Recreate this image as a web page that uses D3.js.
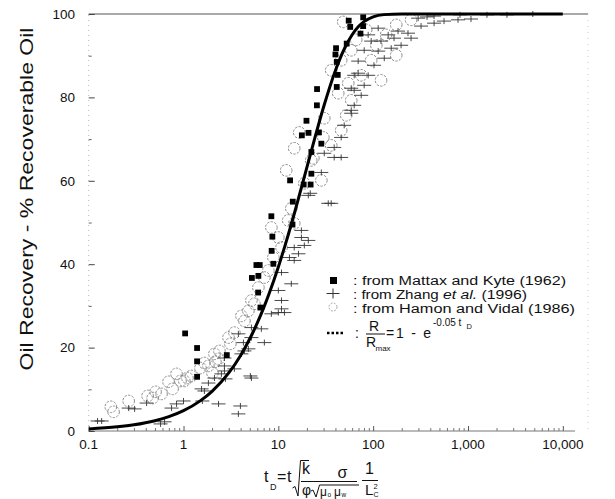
<!DOCTYPE html>
<html><head><meta charset="utf-8">
<script src="https://cdn.jsdelivr.net/npm/d3@7"></script>
<style>body{margin:0;background:#fff}svg{display:block;font-family:Arial,"Liberation Sans",sans-serif}</style>
</head><body>
<svg id="c" width="615" height="499"></svg>
<script>
// ---- data ----
const xTicks = [0.1, 1, 10, 100, 1000, 10000];
const xTickLabels = ["0.1", "1", "10", "100", "1,000", "10,000"];
const yTicks = [0, 20, 40, 60, 80, 100];

const mattaxT = [1.04,1.39,1.39,1.39,2.86,6.47,5.26,6.16,6.12,5.87,6.36,8.86,8.5,8.65,8.44,14.1,14.2,13.3,18.5,21.9,22.3,22.3,28.4,26.8,20.8,17.7,19.8,25.5,25.6,41.3,42.3,41.3,40.0,40.6,52.6,73.5,78.5,78.5,55.2,57.3];
const mattaxR = [23.4,19.9,16.7,13.0,18.2,29.6,36.7,37.2,33.2,39.8,39.8,40.1,43.2,46.6,51.5,49.5,55.0,60.1,59.1,59.1,61.7,66.9,68.9,71.6,71.5,70.9,74.4,78.1,82.0,82.5,85.4,88.5,90.3,91.8,92.9,95.3,97.1,99.2,98.4,96.9];

const zhangT = [0.137,0.264,0.408,0.748,0.844,1.0,0.631,1.83,1.55,2.34,3.79,5.20,4.83,4.08,2.51,2.70,10.0,6.62,7.12,3.79,4.28,2.70,10.8,2.12,2.77,5.07,4.39,3.44,0.124,0.305,0.573,1.66,1.58,3.98,2.70,11.6,13.7,10.8,14.7,16.3,18.8,17.5,13.1,5.20,5.20,10.8,8.44,10.0,33.6,20.7,14.7,17.5,28.4,38.8,30.5,20.7,46.0,36.1,21.7,46.0,63.1,58.7,69.5,49.5,38.8,121,144,183,233,320,439,559,785,1076,197,155,113,131,102,88.6,80.4,74.8,63.1,58.7,251,166,95.3,298,439,113,88.6,80.4,69.5,63.1,58.7,370,824,1585,2576,4831];
const zhangR = [2.4,5.5,6.7,5.5,6.5,7.2,2.2,11.5,10.1,6.5,4.1,12.7,19.7,18.5,13.7,14.4,28.4,24.5,21.2,23.3,21.2,15.6,29.3,12.7,12.5,13.2,19.2,14.9,2.4,5.3,1.7,9.6,7.2,6.0,17.5,28.4,35.3,38.0,40.9,42.5,44.5,46.4,41.6,24.8,22.4,31.3,28.1,33.7,54.6,56.5,44.0,48.1,62.0,65.6,66.6,45.7,65.6,54.6,57.0,70.4,81.7,76.9,85.8,73.3,68.0,93.5,95.0,95.9,95.4,97.1,97.8,98.3,98.6,98.8,92.5,91.8,91.1,89.4,87.7,85.3,82.9,80.5,78.1,76.2,94.2,94.2,93.5,99.0,99.5,96.6,95.0,91.3,88.7,85.3,82.2,99.3,99.8,99.8,99.8,100];

const hamonT = [0.171,0.183,0.264,0.418,0.472,0.507,0.586,0.695,0.766,0.844,0.929,1.02,1.10,1.21,1.51,1.66,1.83,2.02,2.17,2.12,2.39,2.34,2.98,3.12,3.44,4.08,4.39,4.83,5.59,5.20,6.16,7.12,7.85,8.86,10.8,10.0,8.44,12.7,13.7,14.7,18.8,22.2,28.4,12.1,14.7,16.6,23.4,29.8,30.5,42.8,54.6,36.1,46.0,58.7,66.2,48.3,84.4,108,137,175,251,95.3,74.8,58.7,52.0,46.0,36.1,121,175];
const hamonR = [5.8,4.6,7.2,8.4,7.9,9.4,8.9,11.8,10.1,13.7,12.0,12.0,12.7,13.2,15.1,16.3,15.6,13.9,16.6,18.5,19.2,17.3,22.4,20.9,23.6,27.6,26.4,28.8,30.5,31.3,34.4,36.8,38.5,41.6,44.0,46.4,48.8,50.5,53.4,49.8,59.4,64.9,60.1,62.5,67.8,71.6,65.4,70.4,75.0,81.0,83.4,86.5,88.9,91.3,93.8,98.1,96.2,92.5,95.0,97.4,98.6,88.9,85.3,79.3,75.7,72.1,68.5,84.1,90.1];

// model curve R/Rmax = 1 - exp(-0.05 tD), values read at these tD
const curveT = [0.1,0.2,0.3,0.5,0.7,1,1.5,2,3,4,5,6,7,8,10,12,15,20,25,30,40,50,60,70,80,100,130,200,10000];
const curveR = [0.50,1.00,1.49,2.47,3.44,4.88,7.23,9.52,13.93,18.13,22.12,25.92,29.53,32.97,39.35,45.12,52.76,63.21,71.35,77.69,86.47,91.79,95.02,96.98,98.17,99.33,99.85,100,100];

// ---- drawing ----
const svg = d3.select("#c");
const x = d3.scaleLog().domain([0.1, 10000]).range([88.7, 562.8]);
const y = d3.scaleLinear().domain([0, 100]).range([431, 14]);
const xEnd = 588;

// frame
svg.append("line").attr("x1", x(0.1)).attr("x2", 575).attr("y1", y(0)).attr("y2", y(0))
  .attr("stroke", "#777").attr("stroke-width", 1);
svg.append("line").attr("x1", x(0.1)).attr("x2", xEnd).attr("y1", y(100)).attr("y2", y(100))
  .attr("stroke", "#555").attr("stroke-width", 1.2);
svg.append("line").attr("x1", x(0.1)).attr("x2", x(0.1)).attr("y1", y(0)).attr("y2", y(100))
  .attr("stroke", "#aaa").attr("stroke-width", 0.8).attr("stroke-dasharray", "1,4");
svg.append("line").attr("x1", xEnd).attr("x2", xEnd).attr("y1", y(100)).attr("y2", y(0))
  .attr("stroke", "#bbb").attr("stroke-width", 0.8).attr("stroke-dasharray", "1,5");

// y axis
const yAxis = d3.axisRight(y).tickValues(yTicks).tickSize(6).tickFormat("");
const ya = svg.append("g").attr("transform", `translate(${x(0.1)},0)`).call(yAxis);
ya.select(".domain").remove();
ya.selectAll("line").attr("stroke", "#444");
const yMinor = d3.axisRight(y).tickValues(d3.range(10, 100, 20)).tickSize(3).tickFormat("");
const ym = svg.append("g").attr("transform", `translate(${x(0.1)},0)`).call(yMinor);
ym.select(".domain").remove();
ym.selectAll("line").attr("stroke", "#666");
svg.append("g").selectAll("text").data(yTicks).join("text")
  .attr("x", 75).attr("y", d => y(d)).attr("dy", "0.36em").attr("text-anchor", "end")
  .attr("font-size", 13.5).attr("fill", "#111").text(d => d);

// x axis
const minorX = [];
for (let e = -1; e < 4; e++) for (let m = 2; m < 10; m++) minorX.push(m * Math.pow(10, e));
const xMinorAxis = d3.axisTop(x).tickValues(minorX).tickSize(3).tickFormat("");
const xm = svg.append("g").attr("transform", `translate(0,${y(0)})`).call(xMinorAxis);
xm.select(".domain").remove();
xm.selectAll("line").attr("stroke", "#777");
const xAxis = d3.axisTop(x).tickValues(xTicks).tickSize(5).tickFormat("");
const xa = svg.append("g").attr("transform", `translate(0,${y(0)})`).call(xAxis);
xa.select(".domain").remove();
xa.selectAll("line").attr("stroke", "#555");
svg.append("g").selectAll("text").data(xTicks).join("text")
  .attr("x", d => x(d)).attr("y", 449).attr("text-anchor", "middle")
  .attr("font-size", 13.5).attr("fill", "#111").text((d, i) => xTickLabels[i]);

// Hamon circles
svg.append("g").selectAll("circle").data(hamonT.map((t, i) => [t, hamonR[i]])).join("circle")
  .attr("cx", d => x(d[0])).attr("cy", d => y(d[1])).attr("r", 5.8)
  .attr("fill", "none").attr("stroke", "#808080").attr("stroke-width", 0.9)
  .attr("stroke-dasharray", "2.4,1.3");

// Zhang crosses
svg.append("g").selectAll("path").data(zhangT.map((t, i) => [t, zhangR[i]])).join("path")
  .attr("d", d => { const cx = x(d[0]), cy = y(d[1]);
    return `M${cx - 7},${cy}H${cx + 7}M${cx},${cy - 3}V${cy + 3}`; })
  .attr("stroke", "#333").attr("stroke-width", 0.9).attr("fill", "none");

// model curve
const line = d3.line().x(d => x(d[0])).y(d => y(d[1])).curve(d3.curveMonotoneX);
svg.append("path").datum(curveT.map((t, i) => [t, curveR[i]]))
  .attr("d", line).attr("fill", "none").attr("stroke", "#000").attr("stroke-width", 3);

// Mattax squares
svg.append("g").selectAll("rect").data(mattaxT.map((t, i) => [t, mattaxR[i]])).join("rect")
  .attr("x", d => x(d[0]) - 2.9).attr("y", d => y(d[1]) - 2.9).attr("width", 5.8).attr("height", 5.8)
  .attr("fill", "#000");

// legend
const lg = svg.append("g").attr("font-size", 12.5).attr("fill", "#111");
lg.append("rect").attr("x", 330).attr("y", 277).attr("width", 7).attr("height", 7).attr("fill", "#000");
lg.append("text").attr("x", 353).attr("y", 285).attr("textLength", 213).attr("lengthAdjust", "spacingAndGlyphs")
  .text(": from Mattax and Kyte (1962)");
lg.append("path").attr("d", "M326.5,293.5H339.5M333,288.5V298.5").attr("stroke", "#333").attr("stroke-width", 1);
const t2 = lg.append("text").attr("x", 353).attr("y", 299);
t2.append("tspan").attr("textLength", 90).attr("lengthAdjust", "spacingAndGlyphs").text(": from Zhang ");
t2.append("tspan").attr("font-style", "italic").attr("textLength", 34).attr("lengthAdjust", "spacingAndGlyphs").text("et al.");
t2.append("tspan").attr("textLength", 50).attr("lengthAdjust", "spacingAndGlyphs").text(" (1996)");
lg.append("circle").attr("cx", 333).attr("cy", 307).attr("r", 4).attr("fill", "none")
  .attr("stroke", "#999").attr("stroke-width", 0.9).attr("stroke-dasharray", "1.8,1.4");
lg.append("text").attr("x", 353).attr("y", 313).attr("textLength", 222).attr("lengthAdjust", "spacingAndGlyphs")
  .text(": from Hamon and Vidal (1986)");
lg.append("line").attr("x1", 327).attr("x2", 344).attr("y1", 333).attr("y2", 333)
  .attr("stroke", "#000").attr("stroke-width", 2.5).attr("stroke-dasharray", "2.5,2");
const fs = 14;
lg.append("text").attr("x", 355).attr("y", 338).attr("font-size", fs).text(":");
lg.append("text").attr("x", 374).attr("y", 331).attr("font-size", fs).attr("text-anchor", "middle").text("R");
lg.append("line").attr("x1", 366).attr("x2", 385).attr("y1", 334).attr("y2", 334).attr("stroke", "#111").attr("stroke-width", 1);
lg.append("text").attr("x", 366).attr("y", 347).attr("font-size", fs).text("R");
lg.append("text").attr("x", 375.5).attr("y", 351).attr("font-size", 8).text("max");
lg.append("text").attr("x", 386).attr("y", 338).attr("font-size", fs)
  .attr("textLength", 45).attr("lengthAdjust", "spacing").text("=1 - e");
lg.append("text").attr("x", 433).attr("y", 326).attr("font-size", 10).text("-0.05 t");
lg.append("text").attr("x", 466.5).attr("y", 329).attr("font-size", 7.5).text("D");

// y label
svg.append("text").attr("transform", "translate(33,199) rotate(-90)")
  .attr("text-anchor", "middle").attr("font-size", 18).attr("fill", "#111")
  .attr("textLength", 343).attr("lengthAdjust", "spacingAndGlyphs")
  .text("Oil Recovery - % Recoverable Oil");

// x label: tD = t sqrt(k/phi) sigma/sqrt(mu_o mu_w) 1/Lc^2
const xl = svg.append("g").attr("fill", "#111").attr("font-size", 16);
xl.append("text").attr("x", 264).attr("y", 482).text("t");
xl.append("text").attr("x", 270).attr("y", 490).attr("font-size", 9).text("D");
xl.append("text").attr("x", 277).attr("y", 482).text("=");
xl.append("text").attr("x", 287).attr("y", 482).text("t");
xl.append("path").attr("d", "M292.5,488L295,486.5L298,496L300.5,460.5H309")
  .attr("fill", "none").attr("stroke", "#111").attr("stroke-width", 1);
xl.append("text").attr("x", 302).attr("y", 474).text("k");
xl.append("line").attr("x1", 301).attr("x2", 357).attr("y1", 481.5).attr("y2", 481.5).attr("stroke", "#111").attr("stroke-width", 1);
xl.append("text").attr("x", 342.5).attr("y", 478).attr("text-anchor", "middle").text("σ");
xl.append("text").attr("x", 302).attr("y", 494.5).attr("font-size", 14).text("φ");
xl.append("path").attr("d", "M311,491L313,490L316,497L319.5,485H359")
  .attr("fill", "none").attr("stroke", "#111").attr("stroke-width", 1);
xl.append("text").attr("x", 320).attr("y", 495.5).attr("font-size", 12).text("μ");
xl.append("text").attr("x", 327.5).attr("y", 496.5).attr("font-size", 6.5).text("o");
xl.append("text").attr("x", 334).attr("y", 495.5).attr("font-size", 12).text("μ");
xl.append("text").attr("x", 341.5).attr("y", 496.5).attr("font-size", 6.5).text("w");
xl.append("text").attr("x", 369.5).attr("y", 474).attr("text-anchor", "middle").text("1");
xl.append("line").attr("x1", 362).attr("x2", 378).attr("y1", 480.5).attr("y2", 480.5).attr("stroke", "#111").attr("stroke-width", 1);
xl.append("text").attr("x", 365).attr("y", 495).attr("font-size", 15).text("L");
xl.append("text").attr("x", 373.5).attr("y", 489).attr("font-size", 7.5).text("2");
xl.append("text").attr("x", 373.5).attr("y", 497).attr("font-size", 7).text("C");
</script>
</body></html>
